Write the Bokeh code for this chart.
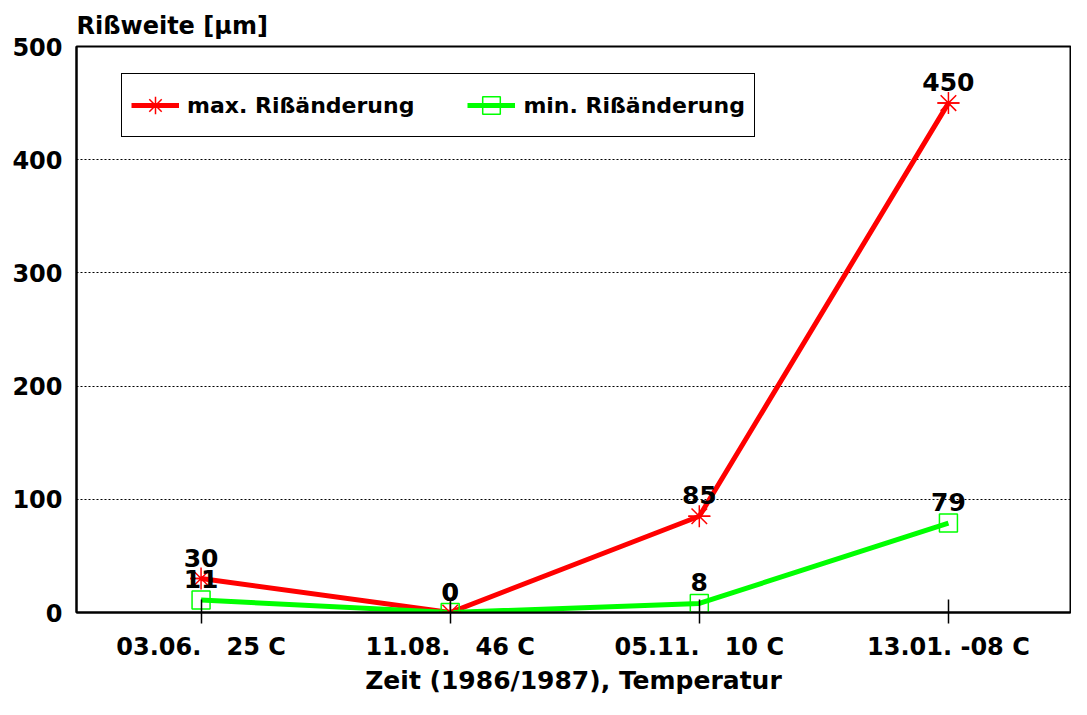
from bokeh.plotting import figure
from bokeh.models import (Range1d, FixedTicker, Legend, LegendItem,
                          ColumnDataSource, LabelSet)
from bokeh.core.properties import value
from bokeh.embed import file_html
from bokeh.resources import INLINE

# ---- data ----
categories = ["03.06.  25 C", "11.08.  46 C", "05.11.  10 C", "13.01. -08 C"]
max_values = [30, 0, 85, 450]
min_values = [11, 0, 8, 79]
y_ticks = [0, 100, 200, 300, 400, 500]
series_names = ["max. Rißänderung", "min. Rißänderung"]
y_title = "Rißweite [μm]"
x_title = "Zeit (1986/1987), Temperatur"

FONT = "DejaVu Sans"
RED = "#ff0000"
GREEN = "#00ff00"

xs = list(range(len(categories)))
src = ColumnDataSource(dict(
    x=xs, ymax=max_values, ymin=min_values,
    lmax=[str(v) for v in max_values], lmin=[str(v) for v in min_values],
))

p = figure(width=1071, height=699, output_backend="svg", toolbar_location=None,
           x_range=Range1d(-0.5, 3.49), y_range=Range1d(0, 500),
           min_border_left=76, min_border_right=1, min_border_top=46,
           min_border_bottom=87, background_fill_color="white",
           border_fill_color="white")

p.title.text = y_title
p.title.align = "left"
p.title.text_font = FONT
p.title.text_font_style = "bold"
p.title.text_font_size = "24px"
p.title.text_color = "black"
p.title.standoff = 14

p.outline_line_color = "black"
p.outline_line_width = 2
p.outline_line_alpha = 1

# axes
p.xaxis.ticker = FixedTicker(ticks=xs)
p.xaxis.major_label_overrides = {i: c.replace("  ", "\u00a0\u00a0\u00a0")
                                 for i, c in enumerate(categories)}
p.xaxis.major_tick_in = 13
p.xaxis.major_tick_out = 11
p.xaxis.major_tick_line_color = "black"
p.xaxis.major_tick_line_width = 1.5
p.xaxis.minor_tick_line_color = None
p.xaxis.major_label_standoff = 9
p.xaxis.axis_label = x_title
p.xaxis.axis_label_standoff = 2
p.xaxis.axis_label_text_font_style = "bold"

p.yaxis.ticker = FixedTicker(ticks=y_ticks)
p.yaxis.major_tick_line_color = None
p.yaxis.major_tick_in = 0
p.yaxis.major_tick_out = 0
p.yaxis.minor_tick_line_color = None
p.yaxis.major_label_standoff = 14

for ax in (p.xaxis[0], p.yaxis[0]):
    ax.axis_line_width = 2
    ax.axis_line_color = "black"
    ax.major_label_text_font = FONT
    ax.major_label_text_font_style = "bold"
    ax.major_label_text_font_size = "24px"
    ax.major_label_text_color = "black"
    ax.axis_label_text_font = FONT
    ax.axis_label_text_font_size = "25px"
    ax.axis_label_text_color = "black"

p.xgrid.grid_line_color = None
p.ygrid.ticker = FixedTicker(ticks=[100, 200, 300, 400])
p.ygrid.grid_line_color = "black"
p.ygrid.grid_line_width = 1
p.ygrid.grid_line_dash = "2 2"

# series
r_line = p.line("x", "ymax", source=src, line_color=RED, line_width=5)
g_line = p.line("x", "ymin", source=src, line_color=GREEN, line_width=5)
r_ast = p.scatter("x", "ymax", source=src, marker="asterisk", size=22,
                  line_color=RED, line_width=1.5)
r_dash = p.scatter("x", "ymax", source=src, marker="dash", size=22,
                   line_color=RED, line_width=1.5)
g_sq = p.scatter("x", "ymin", source=src, marker="square", size=18,
                 line_color=GREEN, fill_color=None, line_width=1.5)

# value labels
for col_y, col_t in (("ymax", "lmax"), ("ymin", "lmin")):
    p.add_layout(LabelSet(x="x", y=col_y, text=col_t, source=src,
                          text_align="center", text_baseline="alphabetic",
                          y_offset=12, text_font=value(FONT),
                          text_font_style="bold",
                          text_font_size="25px", text_color="black"))

legend = Legend(items=[
    LegendItem(label=series_names[0], renderers=[r_line, r_ast, r_dash]),
    LegendItem(label=series_names[1], renderers=[g_line, g_sq]),
], orientation="horizontal", location=(45, 475), margin=0,
    label_text_font=FONT, label_text_font_style="bold",
    label_text_font_size="22px", label_text_color="black",
    glyph_width=48, glyph_height=44,
    label_standoff=8, spacing=53, padding=9,
    border_line_color="black", border_line_width=1.5, border_line_alpha=1,
    background_fill_color="white", background_fill_alpha=1)
p.add_layout(legend)

open("out.html", "w").write(file_html(p, INLINE))
